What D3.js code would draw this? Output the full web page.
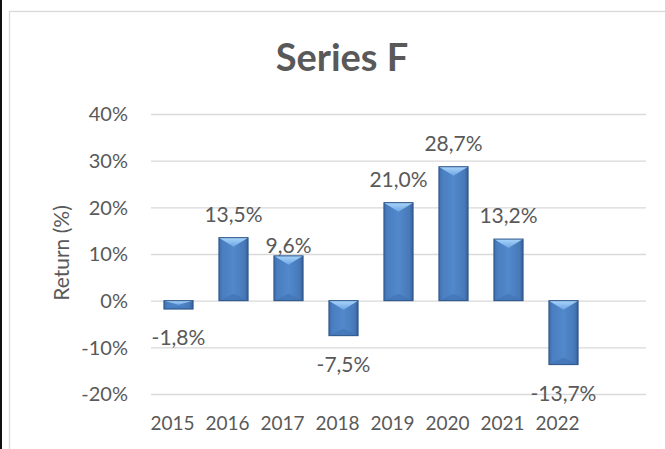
<!DOCTYPE html>
<html>
<head>
<meta charset="utf-8">
<script src="https://cdn.jsdelivr.net/npm/d3@7"></script>
<style>
  html, body { margin: 0; padding: 0; background: #fff; }
  svg { display: block; font-family: Lato, "Open Sans", sans-serif; }
</style>
</head>
<body>
<svg id="chart" width="665" height="449"></svg>
<script>
// data
const years = ["2015", "2016", "2017", "2018", "2019", "2020", "2021", "2022", ""];
const returns = [-1.8, 13.5, 9.6, -7.5, 21.0, 28.7, 13.2, -13.7];
const yTicks = [-20, -10, 0, 10, 20, 30, 40];
const title = "Series F";
const yTitle = "Return (%)";

const W = 665, H = 449;
const TEXT = "#595959";
const svg = d3.select("#chart");

// frame: dark edge on the far left, light chart border
svg.append("rect").attr("x", 0).attr("y", 0).attr("width", 2).attr("height", H).attr("fill", "#111");
svg.append("rect")
  .attr("x", 9.5).attr("y", 11.5)
  .attr("width", W + 20).attr("height", H + 20)
  .attr("fill", "none").attr("stroke", "#d9d9d9").attr("stroke-width", 1.3);

const xScale = d3.scaleBand().domain(years).range([151, 646]).padding(0);
const yScale = d3.scaleLinear().domain([-20, 40]).range([394, 114]);
const barW = xScale.bandwidth() * 0.53;

const loc = d3.formatLocale({ decimal: ",", thousands: ".", grouping: [3], currency: ["", ""], minus: "-" });
const fmt = v => loc.format(".1f")(v) + "%";

// gradients
const defs = svg.append("defs");
const bodyGrad = defs.append("linearGradient").attr("id", "barBody")
  .attr("x1", 0).attr("x2", 1).attr("y1", 0).attr("y2", 0);
bodyGrad.append("stop").attr("offset", "0%").attr("stop-color", "#3e6dab");
bodyGrad.append("stop").attr("offset", "12%").attr("stop-color", "#4a7ec0");
bodyGrad.append("stop").attr("offset", "50%").attr("stop-color", "#5189cc");
bodyGrad.append("stop").attr("offset", "88%").attr("stop-color", "#4779b8");
bodyGrad.append("stop").attr("offset", "100%").attr("stop-color", "#355f98");
const topGrad = defs.append("linearGradient").attr("id", "barTop")
  .attr("x1", 0).attr("x2", 0).attr("y1", 0).attr("y2", 1);
topGrad.append("stop").attr("offset", "0%").attr("stop-color", "#a9d5fb");
topGrad.append("stop").attr("offset", "100%").attr("stop-color", "#6ea5e3");

// gridlines
svg.append("g").selectAll("line").data(yTicks).join("line")
  .attr("x1", xScale.range()[0]).attr("x2", xScale.range()[1])
  .attr("y1", d => yScale(d) + 0.5).attr("y2", d => yScale(d) + 0.5)
  .attr("stroke", "#d9d9d9").attr("stroke-width", 1.3);

// y tick labels
svg.append("g").selectAll("text").data(yTicks).join("text")
  .attr("x", 128).attr("y", d => yScale(d))
  .attr("dy", "0.36em")
  .attr("text-anchor", "end")
  .attr("font-size", 20).attr("fill", TEXT)
  .text(d => d + "%");

// x category labels
svg.append("g").selectAll("text").data(years.filter(d => d)).join("text")
  .attr("x", d => xScale(d) + xScale.bandwidth() / 2 - 6)
  .attr("y", 423).attr("dy", "0.36em")
  .attr("text-anchor", "middle")
  .attr("font-size", 19).attr("fill", TEXT)
  .text(d => d);

// bars with bevel
const bars = svg.append("g").selectAll("g").data(returns).join("g");
bars.each(function(v, i) {
  const g = d3.select(this);
  const x0 = xScale(years[i]) + (xScale.bandwidth() - barW) / 2;
  const x1 = x0 + barW;
  const yTop = Math.min(yScale(v), yScale(0));
  const yBot = Math.max(yScale(v), yScale(0));
  const h = yBot - yTop;
  const cx = (x0 + x1) / 2;
  const dTop = Math.min(9, h * 0.5);
  const dBot = Math.min(7, h * 0.35);
  g.append("rect").attr("x", x0).attr("y", yTop).attr("width", barW).attr("height", h)
    .attr("fill", "url(#barBody)");
  g.append("path")
    .attr("d", `M${x0},${yBot}L${x1},${yBot}L${cx},${yBot - dBot}Z`)
    .attr("fill", "#4174b5").attr("opacity", 0.7);
  g.append("path")
    .attr("d", `M${x0},${yTop}L${x1},${yTop}L${cx},${yTop + dTop}Z`)
    .attr("fill", "url(#barTop)");
  g.append("rect").attr("x", x0).attr("y", yTop).attr("width", barW).attr("height", h)
    .attr("fill", "none").attr("stroke", "#2c5488").attr("stroke-width", 1);
});

// data labels
const labelNudge = { "2017": 13 };
svg.append("g").selectAll("text").data(returns).join("text")
  .attr("x", (d, i) => xScale(years[i]) + xScale.bandwidth() / 2)
  .attr("y", (d, i) => d >= 0
    ? yScale(d) - 23.5 + (labelNudge[years[i]] || 0)
    : yScale(d) + 28.5)
  .attr("dy", "0.36em")
  .attr("text-anchor", "middle")
  .attr("font-size", 21).attr("fill", TEXT)
  .text(d => fmt(d));

// titles
svg.append("text")
  .attr("x", 342).attr("y", 57).attr("dy", "0.36em")
  .attr("text-anchor", "middle")
  .attr("font-size", 38).attr("font-weight", "bold").attr("fill", TEXT)
  .text(title);

svg.append("text")
  .attr("transform", "translate(61,253) rotate(-90)")
  .attr("dy", "0.36em")
  .attr("text-anchor", "middle")
  .attr("font-size", 21).attr("fill", TEXT)
  .text(yTitle);
</script>
</body>
</html>
